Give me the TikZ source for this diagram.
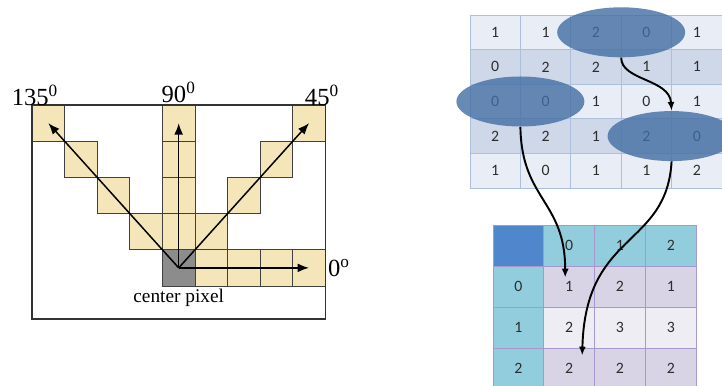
\documentclass[tikz,border=0pt]{standalone}
\usepackage{fontspec}
\setmainfont{Liberation Serif}
\newfontfamily\tabfont{Carlito}
\usetikzlibrary{arrows.meta,positioning,shapes.geometric,calc}

\definecolor{pixtan}{RGB}{245,230,185}
\definecolor{pixgray}{RGB}{140,140,140}
\definecolor{gline}{RGB}{172,192,222}
\definecolor{glight}{RGB}{233,237,245}
\definecolor{gdark}{RGB}{207,216,233}
\definecolor{blobblue}{RGB}{66,110,162}
\definecolor{tcorner}{RGB}{79,134,204}
\definecolor{thead}{RGB}{146,205,222}
\definecolor{tdark}{RGB}{216,212,229}
\definecolor{tlight}{RGB}{238,237,243}
\definecolor{tline}{RGB}{165,152,208}
\definecolor{numtxt}{RGB}{45,45,45}

\begin{document}
\begin{tikzpicture}[
        x=0.02cm, y=-0.02cm,
        node distance=0pt,
    % Left panel: pixel grid with the four directions
        pix/.style={draw=black!75, fill=pixtan, line width=0.5pt,
        minimum width=0.652cm, minimum height=0.724cm, inner sep=0pt, outer sep=0pt},
        ctr/.style={pix, fill=pixgray},
        frame/.style={draw=black!80, line width=0.6pt},
        deg/.style={font=\fontsize{14}{16}\selectfont, inner sep=1pt},
        lbl/.style={font=\fontsize{11}{13}\selectfont, inner sep=1.5pt},
        ray/.style={-{Latex[length=6.5pt,width=5pt]}, line width=0.85pt},
    % Right panel: image matrix and co-occurrence table
        gcell/.style={draw=gline, line width=0.5pt, minimum width=1.008cm, minimum height=0.692cm,
        inner sep=0pt, outer sep=0pt, text=numtxt, font=\tabfont\fontsize{9}{10}\selectfont},
        gl/.style={gcell, fill=glight},
        gd/.style={gcell, fill=gdark},
        blob/.style={ellipse, fill=blobblue, fill opacity=0.8, minimum width=2.56cm, minimum height=1.0cm,
        inner sep=0pt},
        tcell/.style={draw=tline, line width=0.5pt, minimum width=1.016cm, minimum height=0.82cm,
        inner sep=0pt, outer sep=0pt, text=numtxt, font=\tabfont\fontsize{9}{10}\selectfont},
        tc/.style={tcell, fill=tcorner},
        th/.style={tcell, fill=thead},
        td/.style={tcell, fill=tdark},
        tl/.style={tcell, fill=tlight},
        flow/.style={-{Latex[length=5pt,width=4pt]}, line width=1.1pt}
    ]
    \useasboundingbox (0,0) rectangle (722,385);
    \clip (0,0) rectangle (722,385);

% --- pixel cells (left) ---
    \node[pix] (a0) at (48.3,123.1) {};
    \node[pix, below right=of a0] (a1) {};
    \node[pix, below right=of a1] (a2) {};
    \node[pix, below right=of a2] (a3) {};

    \node[pix] (v0) at (178.7,123.1) {};
    \node[pix, below=of v0] (v1) {};
    \node[pix, below=of v1] (v2) {};
    \node[pix, below=of v2] (v3) {};
    \node[ctr, below=of v3] (cp) {};

    \node[pix] (b0) at (309.1,123.1) {};
    \node[pix, below left=of b0] (b1) {};
    \node[pix, below left=of b1] (b2) {};
    \node[pix, below left=of b2] (b3) {};

    \node[pix, right=of cp] (h1) {};
    \node[pix, right=of h1] (h2) {};
    \node[pix, right=of h2] (h3) {};
    \node[pix, right=of h3] (h4) {};

    \coordinate (fcorner) at (325.4,319);
    \draw[frame] (a0.north west) rectangle (fcorner);

% --- direction labels ---
    \node[deg] (l135) at (35,95) {135\textsuperscript{0}};
    \node[deg, above=0pt of v0] (l90) {90\textsuperscript{0}};
    \node[deg] (l45) at (322,95) {45\textsuperscript{0}};
    \node[deg] (l0) at (339,268) {0\textsuperscript{o}};
    \node[lbl, below=0pt of cp] (cplbl) {center pixel};

% --- rays from the center pixel ---
    \draw[ray] (cp.center) -- (a0.center);
    \draw[ray] (cp.center) -- (v0.center);
    \draw[ray] (cp.center) -- (b0.center);
    \draw[ray] (cp.center) -- (h4.center);

% --- image matrix (top right) ---
    \node[gl] (g11) at (495.2,32.3) {1};
    \node[gl, right=of g11] (g12) {1}; \node[gl, right=of g12] (g13) {2};
    \node[gl, right=of g13] (g14) {0}; \node[gl, right=of g14] (g15) {1};

    \node[gd, below=of g11] (g21) {0};
    \node[gd, right=of g21] (g22) {2}; \node[gd, right=of g22] (g23) {2};
    \node[gd, right=of g23] (g24) {1}; \node[gd, right=of g24] (g25) {1};

    \node[gl, below=of g21] (g31) {0};
    \node[gl, right=of g31] (g32) {0}; \node[gl, right=of g32] (g33) {1};
    \node[gl, right=of g33] (g34) {0}; \node[gl, right=of g34] (g35) {1};

    \node[gd, below=of g31] (g41) {2};
    \node[gd, right=of g41] (g42) {2}; \node[gd, right=of g42] (g43) {1};
    \node[gd, right=of g43] (g44) {2}; \node[gd, right=of g44] (g45) {0};

    \node[gl, below=of g41] (g51) {1};
    \node[gl, right=of g51] (g52) {0}; \node[gl, right=of g52] (g53) {1};
    \node[gl, right=of g53] (g54) {1}; \node[gl, right=of g54] (g55) {2};

% --- highlighted pixel pairs ---
    \node[blob] (e1) at (g13.east) {};
    \node[blob] (e2) at (g31.east) {};
    \node[blob] (e3) at (g44.east) {};

% --- co-occurrence table (bottom right) ---
    \node[tc] (t00) at (518.4,245.5) {};
    \node[th, right=of t00] (t01) {0}; \node[th, right=of t01] (t02) {1};
    \node[th, right=of t02] (t03) {2};

    \node[th, below=of t00] (t10) {0};
    \node[td, right=of t10] (t11) {1}; \node[td, right=of t11] (t12) {2};
    \node[td, right=of t12] (t13) {1};

    \node[th, below=of t10] (t20) {1};
    \node[tl, right=of t20] (t21) {2}; \node[tl, right=of t21] (t22) {3};
    \node[tl, right=of t22] (t23) {3};

    \node[th, below=of t20] (t30) {2};
    \node[td, right=of t30] (t31) {2}; \node[td, right=of t31] (t32) {2};
    \node[td, right=of t32] (t33) {2};

% --- counting arrows ---
    \draw[flow] (e1.south) .. controls +(0,23) and +(-2,-32) .. (e3.north);
    \draw[flow] (e2.south) .. controls +(1,73) and +(0,-77) .. ($(t11.center)+(-4,-9)$);
    \draw[flow] (e3.south) .. controls +(-5,87) and +(3,-125) .. ($(t31.center)+(13,-13)$);
\end{tikzpicture}
\end{document}
